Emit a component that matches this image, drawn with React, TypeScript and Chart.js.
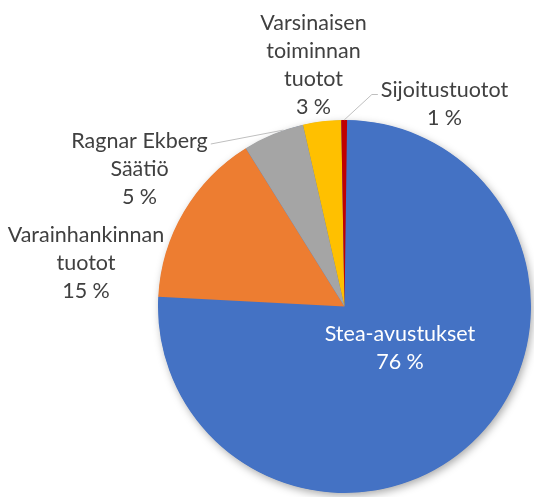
import React, { useEffect, useRef } from "react";
import { Chart, registerables } from "chart.js";

Chart.register(...registerables);

const categories = ["Stea-avustukset", "Varainhankinnan tuotot", "Ragnar Ekberg Säätiö", "Varsinaisen toiminnan tuotot", "Sijoitustuotot"];
const values = [75.6, 15.3, 5.3, 3.3, 0.5];
const percentLabels = ["76 %", "15 %", "5 %", "3 %", "1 %"];
const labelLines = [
  ["Stea-avustukset"],
  ["Varainhankinnan", "tuotot"],
  ["Ragnar Ekberg", "Säätiö"],
  ["Varsinaisen", "toiminnan", "tuotot"],
  ["Sijoitustuotot"],
];
const colors = ["#4472C4", "#ED7D31", "#A5A5A5", "#FFC000", "#C00000"];

// label anchor offsets (relative to pie centre): [dx, dy of first line]
const labelOffsets = [
  [55.5, 27.5],
  [-258.5, -71.5],
  [-205, -165.5],
  [-31, -283.5],
  [100, -216],
];
const LINE_H = 28;
const FONT = "21.5px Lato, 'Liberation Sans', sans-serif";

const shadowPlugin = {
  id: "pieShadow",
  beforeDatasetsDraw(chart: any) {
    const arc = chart.getDatasetMeta(0).data[0];
    if (!arc) return;
    const ctx = chart.ctx;
    ctx.save();
    ctx.shadowColor = "rgba(0,0,0,0.35)";
    ctx.shadowBlur = 9;
    ctx.shadowOffsetX = 2;
    ctx.shadowOffsetY = 3;
    ctx.fillStyle = colors[0];
    ctx.beginPath();
    ctx.arc(arc.x, arc.y, arc.outerRadius - 0.5, 0, Math.PI * 2);
    ctx.fill();
    ctx.restore();
  },
};

const labelPlugin = {
  id: "pieLabels",
  afterDatasetsDraw(chart: any) {
    const ctx = chart.ctx;
    const meta = chart.getDatasetMeta(0);
    ctx.save();
    ctx.font = FONT;
    ctx.textAlign = "center";
    ctx.textBaseline = "middle";
    meta.data.forEach((arc: any, i: number) => {
      const cx = arc.x;
      const cy = arc.y;
      const lines = [...labelLines[i], percentLabels[i]];
      const [dx, dy] = labelOffsets[i];
      const x = cx + dx;
      const y0 = cy + dy;
      ctx.fillStyle = i === 0 ? "#ffffff" : "#404040";
      lines.forEach((t, k) => ctx.fillText(t, x, y0 + k * LINE_H));
      const mid = (arc.startAngle + arc.endAngle) / 2;
      const r = arc.outerRadius;
      const px = cx + Math.cos(mid) * r;
      const py = cy + Math.sin(mid) * r;
      if (i === 2) {
        const w = ctx.measureText(lines[0]).width;
        ctx.strokeStyle = "#BFBFBF";
        ctx.lineWidth = 1;
        ctx.beginPath();
        ctx.moveTo(x + w / 2 + 3, y0 + 3);
        ctx.lineTo(px + 10, py - 4);
        ctx.stroke();
      }
      if (i === 4) {
        const w = ctx.measureText(lines[0]).width;
        ctx.strokeStyle = "#BFBFBF";
        ctx.lineWidth = 1;
        ctx.beginPath();
        ctx.moveTo(x - w / 2 - 3, y0 + 4);
        ctx.lineTo(x - w / 2 - 9, y0 + 4);
        ctx.lineTo(px, py);
        ctx.stroke();
      }
    });
    ctx.restore();
  },
};

export default function App() {
  const ref = useRef<HTMLCanvasElement | null>(null);
  useEffect(() => {
    if (!ref.current) return;
    const chart = new Chart(ref.current, {
      type: "pie",
      data: {
        labels: categories,
        datasets: [
          {
            data: values,
            backgroundColor: colors,
            borderWidth: 0,
          },
        ],
      },
      options: {
        animation: false,
        responsive: false,
        rotation: 0.8,
        layout: { padding: { left: 158, right: 3, top: 120, bottom: 4 } },
        plugins: {
          legend: { display: false },
          tooltip: { enabled: false },
        },
      },
      plugins: [shadowPlugin, labelPlugin],
    });
    return () => chart.destroy();
  }, []);
  return (
    <div style={{ position: "fixed", left: 0, top: 0, width: 534, height: 497, background: "#fff" }}>
      <canvas ref={ref} width={534} height={497} />
    </div>
  );
}
